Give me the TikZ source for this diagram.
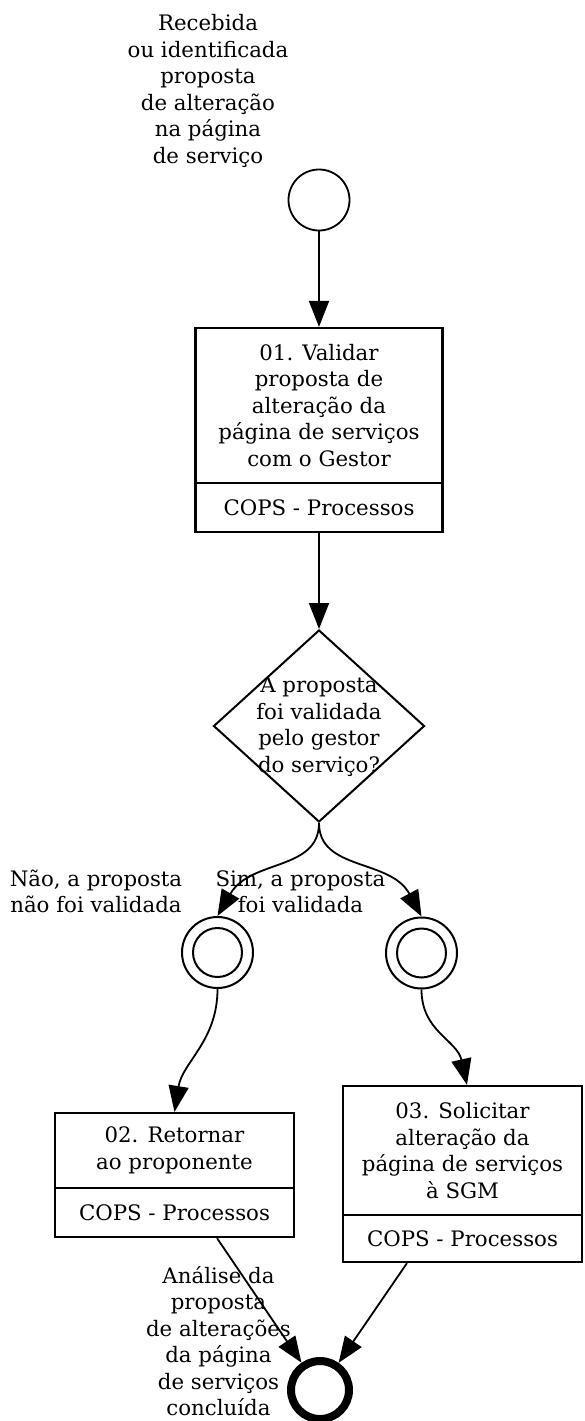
\documentclass[tikz,border=0pt]{standalone}
\usepackage{fontspec}
\setmainfont{DejaVu Serif}
\usetikzlibrary{arrows.meta,shapes.geometric}
\begin{document}
\begin{tikzpicture}[x=1pt,y=-1pt,
  txt/.style={font=\fontsize{21.3pt}{26.5pt}\selectfont, align=center, inner sep=0pt},
  taskbox/.style={draw, line width=2.2pt, inner sep=0pt, align=center,
    font=\fontsize{21.3pt}{26.5pt}\selectfont},
  startev/.style={draw, circle, line width=1.8pt, minimum size=61pt, inner sep=0pt},
  interev/.style={draw, circle, line width=2pt, minimum size=71pt, inner sep=0pt},
  innerc/.style={draw, circle, line width=2pt, minimum size=49pt, inner sep=0pt},
  endev/.style={draw, circle, line width=8pt, minimum size=58pt, inner sep=0pt},
  gate/.style={draw, diamond, line width=2pt, minimum width=211pt, minimum height=192pt, inner sep=0pt},
  flow/.style={line width=1.8pt, -{Triangle[length=26pt,width=20pt]}}
]
\path[fill=white, use as bounding box] (0,0) rectangle (584,1421);

% start event
\node[txt] (startlbl) at (208,91) {Recebida\\ou identificada\\proposta\\de alteração\\na página\\de serviço};
\node[startev] (start) at (319,200) {};

% task 01
\node[taskbox, minimum width=247pt, minimum height=155pt] (t1) at (319,405.5)
  {01. Validar\\proposta de\\alteração da\\página de serviços\\com o Gestor};
\node[taskbox, minimum width=247pt, minimum height=49pt] (r1) at (319,507.5) {COPS - Processos};

% gateway
\node[gate] (g) at (319,726) {};
\node[txt] (gtxt) at (319,727) {A proposta\\foi validada\\pelo gestor\\do serviço?};

% intermediate events
\node[interev] (i1) at (217.5,952.5) {};
\node[innerc] (i1in) at (217.5,952.5) {};
\node[interev] (i2) at (421.5,953) {};
\node[innerc] (i2in) at (421.5,953) {};

\node[txt] (nlbl) at (96,891.5) {Não, a proposta\\não foi validada};
\node[txt] (slbl) at (300.5,891.5) {Sim, a proposta\\foi validada};

% task 02
\node[taskbox, minimum width=239pt, minimum height=75pt] (t2) at (174.5,1150.5)
  {02. Retornar\\ao proponente};
\node[taskbox, minimum width=239pt, minimum height=49pt] (r2) at (174.5,1212.5) {COPS - Processos};

% task 03
\node[taskbox, minimum width=239pt, minimum height=129pt] (t3) at (462.5,1150.5)
  {03. Solicitar\\alteração da\\página de serviços\\à SGM};
\node[taskbox, minimum width=239pt, minimum height=47pt] (r3) at (462.5,1238.5) {COPS - Processos};

% end event
\node[endev] (e) at (320,1390) {};
\node[txt] (elbl) at (218.5,1341) {Análise da\\proposta\\de alterações\\da página\\de serviços\\concluída};

% connectors
\draw[flow] (start.south) -- (t1.north);
\draw[flow] (r1.south) -- (g.north);
\draw[flow] (g.south) .. controls +(0,48) and +(33,-57) .. (i1.north);
\draw[flow] (g.south) .. controls +(0,48) and +(-31,-58) .. (i2.north);
\draw[flow] (i1.south) .. controls +(0,52) and +(8,-50) .. (t2.north);
\draw[flow] (i2.south) .. controls +(0,42) and +(-10,-45) .. ([xshift=4.5pt]t3.north);
\draw[flow] ([xshift=42.5pt]r2.south) -- (e);
\draw[flow] ([xshift=-55.5pt]r3.south) -- (e);
\end{tikzpicture}
\end{document}
